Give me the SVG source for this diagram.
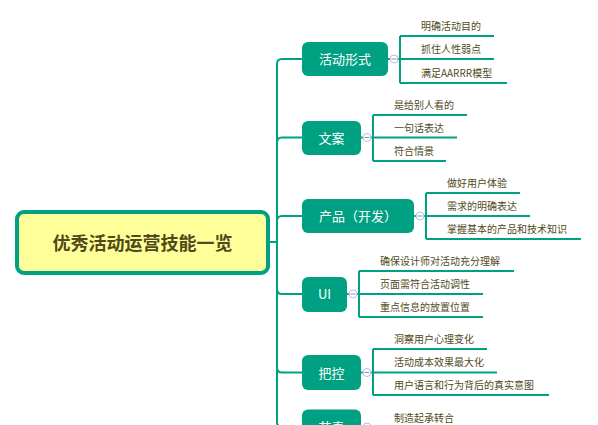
<svg xmlns="http://www.w3.org/2000/svg" width="598" height="425" viewBox="0 0 598 425">
<style>
.conn{fill:none;stroke:#00a183;stroke-width:2}
.node{fill:#00a183}
.nt{font-family:"Noto Sans CJK SC","Noto Sans",sans-serif;font-size:13px;fill:#ffffff;text-anchor:middle}
.ct{font-family:"Noto Sans CJK SC","Noto Sans",sans-serif;font-size:10px;fill:#4f4a1c}
.col{fill:#ffffff;stroke:#b4c0ec;stroke-width:1}
.minus{stroke:#8a93b8;stroke-width:1}
</style>
<rect width="598" height="425" fill="#ffffff"/>
<g id="connectors">
<path class="conn" d="M269 242 H277"/>
<path class="conn" d="M277 242 V64 Q277 59 282 59 H302"/>
<path class="conn" d="M277 242 V142.5 Q277 137.5 282 137.5 H302"/>
<path class="conn" d="M277 242 V221 Q277 216 282 216 H302"/>
<path class="conn" d="M277 242 V289 Q277 294 282 294 H302"/>
<path class="conn" d="M277 242 V367.5 Q277 372.5 282 372.5 H302"/>
<path class="conn" d="M277 242 V422 Q277 427 282 427 H302"/>
<path class="conn" d="M388 59 H400 M400 36 V83 M400 36 H494 M400 59 H494 M400 83 H507"/>
<path class="conn" d="M361 137.5 H373 M373 115 V161 M373 115 H467 M373 137.5 H457 M373 161 H446"/>
<path class="conn" d="M414 216 H426 M426 193 V239 M426 193 H520 M426 216 H530 M426 239 H581"/>
<path class="conn" d="M347 294 H359 M359 271 V317 M359 271 H514 M359 294 H483 M359 317 H483"/>
<path class="conn" d="M361 372.5 H373 M373 349 V395 M373 349 H487 M373 372.5 H497 M373 395 H549"/>
<path class="conn" d="M361 427 H373"/>
</g>
<g id="root">
<rect x="17" y="212" width="251" height="61" rx="7" fill="#ffff99" stroke="#00a183" stroke-width="4"/>
<text x="142.5" y="249.5" font-family="'Noto Sans CJK SC','Noto Sans',sans-serif" font-size="18" font-weight="bold" fill="#4f4a1c" text-anchor="middle">优秀活动运营技能一览</text>
</g>
<g id="n1">
<rect class="node" x="302" y="42" width="86" height="34" rx="6"/>
<text class="nt" x="345" y="64">活动形式</text>
<circle class="col" cx="394" cy="59" r="4"/><path class="minus" d="M391.5 59 H396.5"/>
<text class="ct" x="421" y="30">明确活动目的</text>
<text class="ct" x="421" y="53">抓住人性弱点</text>
<text class="ct" x="421" y="77">满足AARRR模型</text>
</g>
<g id="n2">
<rect class="node" x="302" y="121" width="59" height="34" rx="6"/>
<text class="nt" x="331.5" y="142.5">文案</text>
<circle class="col" cx="367" cy="137.5" r="4"/><path class="minus" d="M364.5 137.5 H369.5"/>
<text class="ct" x="394" y="109">是给别人看的</text>
<text class="ct" x="394" y="132">一句话表达</text>
<text class="ct" x="394" y="155">符合情景</text>
</g>
<g id="n3">
<rect class="node" x="302" y="199" width="112" height="34" rx="6"/>
<text class="nt" x="358" y="221">产品（开发）</text>
<circle class="col" cx="420" cy="216" r="4"/><path class="minus" d="M417.5 216 H422.5"/>
<text class="ct" x="447" y="187">做好用户体验</text>
<text class="ct" x="447" y="210">需求的明确表达</text>
<text class="ct" x="447" y="233">掌握基本的产品和技术知识</text>
</g>
<g id="n4">
<rect class="node" x="302" y="277" width="45" height="35" rx="6"/>
<text class="nt" x="324.5" y="299">UI</text>
<circle class="col" cx="353" cy="294" r="4"/><path class="minus" d="M350.5 294 H355.5"/>
<text class="ct" x="380" y="265">确保设计师对活动充分理解</text>
<text class="ct" x="380" y="288">页面需符合活动调性</text>
<text class="ct" x="380" y="311">重点信息的放置位置</text>
</g>
<g id="n5">
<rect class="node" x="302" y="355" width="59" height="35" rx="6"/>
<text class="nt" x="331.5" y="377.5">把控</text>
<circle class="col" cx="367" cy="372.5" r="4"/><path class="minus" d="M364.5 372.5 H369.5"/>
<text class="ct" x="394" y="343">洞察用户心理变化</text>
<text class="ct" x="394" y="366">活动成本效果最大化</text>
<text class="ct" x="394" y="389">用户语言和行为背后的真实意图</text>
</g>
<g id="n6">
<rect class="node" x="302" y="409.5" width="59" height="35" rx="6"/>
<text class="nt" x="331.5" y="432">节奏</text>
<circle class="col" cx="367" cy="427" r="4"/><path class="minus" d="M364.5 427 H369.5"/>
<text class="ct" x="394" y="421.5">制造起承转合</text>
</g>
</svg>
